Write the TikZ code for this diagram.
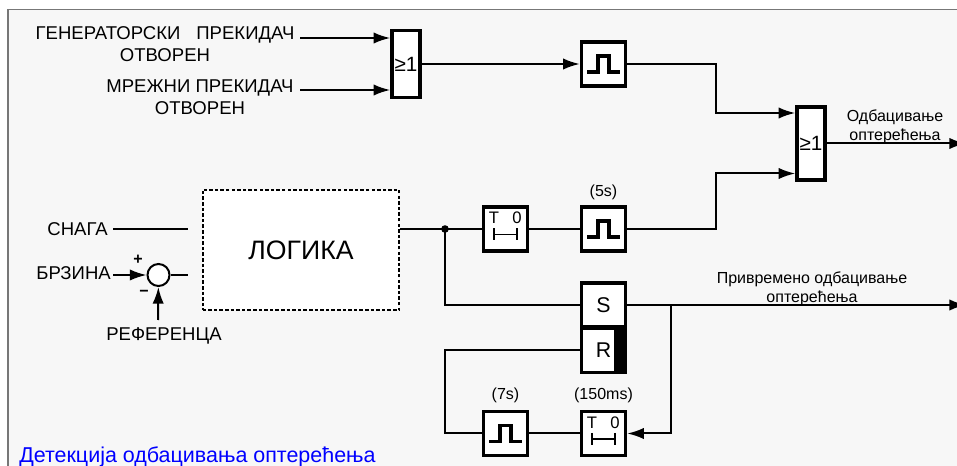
\documentclass[tikz,border=0pt]{standalone}
\usepackage{fontspec}
\setmainfont{Liberation Sans}
\usetikzlibrary{arrows.meta}
\definecolor{panelgray}{HTML}{F7F7F7}
\definecolor{framegray}{HTML}{777777}
\tikzset{
  wire/.style={line width=1.5pt},
  arrowwire/.style={wire, -{Latex[length=12.5pt,width=8.5pt]}},
  blockbox/.style={draw, line width=2.6pt, fill=white, minimum width=33pt, minimum height=33pt, inner sep=0pt},
  gatebox/.style={blockbox, minimum width=21pt, font=\fontsize{15.5}{16}\selectfont},
  glyph/.style={line width=2.4pt},
  bigtext/.style={align=center, inner sep=0pt, font=\fontsize{13.9}{16.5}\selectfont},
  smalltext/.style={align=center, inner sep=0pt, font=\fontsize{12}{14.2}\selectfont},
}
\begin{document}
\begin{tikzpicture}[x=.75pt,y=-.75pt]
\path[use as bounding box, clip] (0,0) rectangle (957,466);
\fill[panelgray] (8,9.5) rectangle (957,466);
\draw[framegray, line width=1.2pt] (8,466) -- (8,9.5) -- (957,9.5);
% inputs
\node[bigtext] (tgen) at (165,44) {ГЕНЕРАТОРСКИ\hspace{12pt}ПРЕКИДАЧ\\ОТВОРЕН};
\node[bigtext] (tmreza) at (200,97) {МРЕЖНИ ПРЕКИДАЧ\\ОТВОРЕН};
\node[bigtext, anchor=east] (tsnaga) at (108,229) {СНАГА};
\node[bigtext, anchor=east] (tbrzina) at (111,273) {БРЗИНА};
\node[bigtext] (tref) at (164,336) {РЕФЕРЕНЦА};
\coordinate (cgen) at (300,38);
\coordinate (cmreza) at (300,90);
\coordinate (csnaga) at (113,229);
\coordinate (csnagb) at (188,229);
\coordinate (cbrz) at (113,275);
\coordinate (csumb) at (188,275);
\coordinate (cref) at (158,320);
% blocks
\node[gatebox] (or1) at (406,64) [minimum height=50pt] {≥1};
\node[gatebox] (or2) at (811,143.5) [minimum height=55pt] {≥1};
\node[blockbox] (p1) at (603.5,64) {};
\node[blockbox] (p2) at (603.5,229) {};
\node[blockbox] (p3) at (505.5,433.5) {};
\node[blockbox] (t1) at (505.5,229) {};
\node[blockbox] (t2) at (603.5,433.5) {};
\node[blockbox, font=\fontsize{16}{16}\selectfont] (bs) at (603.5,305) {S};
\node[blockbox, font=\fontsize{16}{16}\selectfont] (br) at (603.5,350.5) {R};
\fill (614,328) rectangle (br.south east);
\node[draw, fill=white, dash pattern=on 2.6pt off 1.6pt, line width=1.3pt, minimum width=147.5pt, minimum height=90.5pt, font=\fontsize{20}{22}\selectfont] (logika) at (301,250) {ЛОГИКА};
\node[draw, circle, fill=white, line width=1.5pt, minimum size=16.5pt, inner sep=0pt] (sum) at (158.5,275) {};
% pulse and timer signs
\foreach \b in {p1,p2,p3} {
  \draw[glyph, shift={(\b.center)}] (-16.5,8) -- (-5.5,8) -- (-5.5,-8) -- (5.5,-8) -- (5.5,8) -- (16.5,8);
}
\foreach \b in {t1,t2} {
  \draw[line width=1.2pt, shift={(\b.center)}] (-11.5,-.5) -- (-11.5,11.5) (-11.5,5.5) -- (11.5,5.5) (11.5,-.5) -- (11.5,11.5);
  \node[smalltext, font=\fontsize{12.5}{13}\selectfont] (\b T) at ([xshift=-8.6pt,yshift=8.3pt]\b.center) {T};
  \node[smalltext, font=\fontsize{12.5}{13}\selectfont] (\b Z) at ([xshift=8.6pt,yshift=8.3pt]\b.center) {0};
}
% connectors
\draw[arrowwire] (cgen) -- (cgen -| or1.west);
\draw[arrowwire] (cmreza) -- (cmreza -| or1.west);
\draw[wire] (csnaga) -- (csnagb);
\draw[arrowwire] (cbrz) -- (sum);
\draw[arrowwire] (cref) -- (sum);
\draw[wire] (sum) -- (csumb);
\draw[arrowwire] (or1) -- (p1);
\coordinate (cup) at (716,113);
\coordinate (cdown) at (716,173.5);
\coordinate (cj) at (445,229);
\coordinate (cout1) at (966,143.5);
\coordinate (cout2) at (966,305);
\coordinate (cbr) at (671,305);
\draw[arrowwire] (p1) -| (cup) -- (cup -| or2.west);
\draw[arrowwire] (p2) -| (cdown) -- (cdown -| or2.west);
\draw[arrowwire] (or2) -- (cout1);
\draw[wire] (logika.east |- cj) -- (t1);
\draw[wire] (t1) -- (p2);
\fill (cj) circle (3.8);
\draw[wire] (cj) |- (bs);
\draw[arrowwire] (bs) -- (cout2);
\draw[arrowwire] (cbr) |- (t2);
\draw[wire] (t2) -- (p3);
\draw[wire] (p3) -| (445,350.5) -- (br);
% labels
\node[inner sep=0pt, font=\fontsize{12}{12}\selectfont\bfseries] (lplus) at (138,260) {+};
\node[inner sep=0pt, font=\fontsize{12}{12}\selectfont\bfseries] (lminus) at (144,293) {−};
\node[smalltext] (l5s) at (603.5,192) {(5s)};
\node[smalltext] (l7s) at (505.5,395) {(7s)};
\node[smalltext] (l150) at (603.5,395) {(150ms)};
\node[smalltext] (lodb) at (895,126.5) {Одбацивање\\оптерећења};
\node[smalltext] (lpriv) at (812,288.5) {Привремено одбацивање\\оптерећења};
\node[anchor=base west, inner sep=0pt, text=blue, font=\fontsize{16.1}{18}\selectfont] (ldet) at (19,463) {Детекција одбацивања оптерећења};
\end{tikzpicture}
\end{document}
